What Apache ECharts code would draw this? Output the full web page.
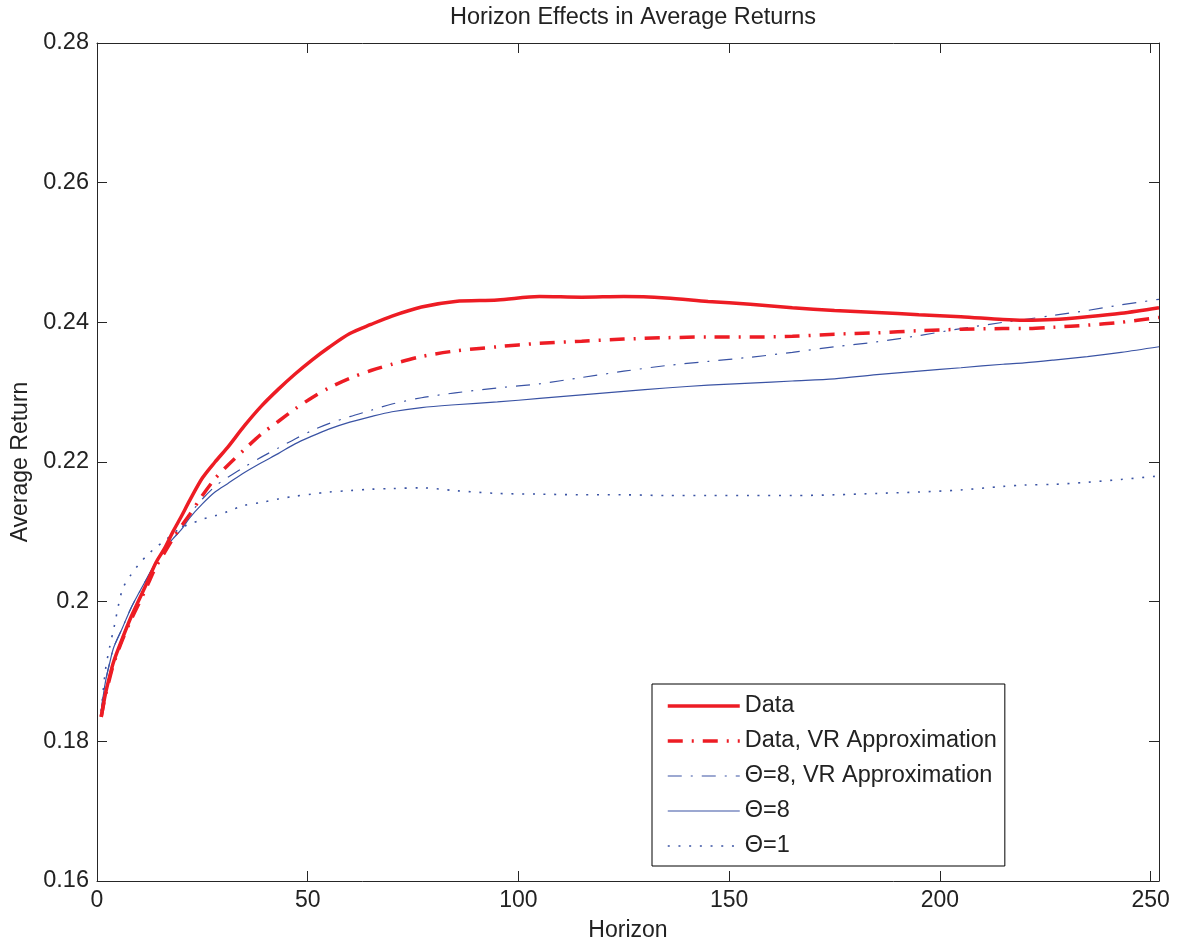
<!DOCTYPE html>
<html>
<head>
<meta charset="utf-8">
<script src="https://cdn.jsdelivr.net/npm/echarts@6/dist/echarts.min.js"></script>
<style>
html,body{margin:0;padding:0;background:#fff;}
#chart{width:1177px;height:947px;}
</style>
</head>
<body>
<div id="chart"></div>
<script>
var horizon = [1,2,3,4,6,8,10,12,14,16,18,20,22,25,28,31,35,39,43,47,51,55,60,65,70,77,85,95,105,115,125,135,145,155,165,175,185,195,205,215,220,227,235,243,252];

var dataActual = [0.1835,0.1868,0.1893,0.1915,0.1947,0.1977,0.2003,0.2029,0.2056,0.2076,0.2100,0.2122,0.2145,0.2177,0.2200,0.2221,0.2252,0.2280,0.2304,0.2326,0.2346,0.2364,0.2384,0.2397,0.2409,0.2422,0.2430,0.2432,0.2437,0.2436,0.2437,0.2435,0.2430,0.2426,0.2421,0.2417,0.2414,0.2411,0.2408,0.2404,0.2403,0.2404,0.2408,0.2413,0.2421];

var dataVR = [0.1835,0.1866,0.1890,0.1912,0.1945,0.1973,0.1998,0.2024,0.2050,0.2070,0.2090,0.2108,0.2125,0.2152,0.2176,0.2195,0.2218,0.2240,0.2258,0.2276,0.2292,0.2306,0.2320,0.2331,0.2340,0.2351,0.2359,0.2365,0.2370,0.2373,0.2376,0.2378,0.2379,0.2379,0.2380,0.2383,0.2385,0.2388,0.2390,0.2391,0.2391,0.2393,0.2396,0.2400,0.2407];

var theta8VR = [0.1844,0.1885,0.1912,0.1935,0.1962,0.1990,0.2013,0.2035,0.2057,0.2076,0.2090,0.2105,0.2125,0.2147,0.2165,0.2178,0.2193,0.2207,0.2220,0.2233,0.2245,0.2255,0.2265,0.2274,0.2283,0.2292,0.2299,0.2306,0.2312,0.2321,0.2330,0.2338,0.2344,0.2350,0.2357,0.2365,0.2372,0.2381,0.2391,0.2400,0.2404,0.2410,0.2417,0.2425,0.2433];

var theta8 = [0.1844,0.1885,0.1912,0.1935,0.1962,0.1990,0.2013,0.2035,0.2057,0.2076,0.2090,0.2103,0.2120,0.2140,0.2157,0.2169,0.2185,0.2199,0.2212,0.2226,0.2237,0.2247,0.2257,0.2265,0.2272,0.2278,0.2282,0.2286,0.2291,0.2296,0.2301,0.2306,0.2310,0.2313,0.2316,0.2319,0.2325,0.2330,0.2335,0.2340,0.2342,0.2346,0.2351,0.2357,0.2365];

var theta1 = [0.1843,0.1902,0.1935,0.1962,0.2017,0.2038,0.2054,0.2067,0.2078,0.2087,0.2097,0.2106,0.2111,0.2118,0.2123,0.2129,0.2138,0.2142,0.2147,0.2151,0.2154,0.2157,0.2159,0.2161,0.2162,0.2163,0.2159,0.2155,0.2154,0.2153,0.2153,0.2152,0.2152,0.2152,0.2152,0.2153,0.2155,0.2157,0.2160,0.2165,0.2167,0.2168,0.2171,0.2175,0.2180];

var seriesNames = ['Data', 'Data, VR Approximation', '\u0398=8, VR Approximation', '\u0398=8', '\u0398=1'];

function pairs(arr) {
  return horizon.map(function (h, i) { return [h, arr[i]]; });
}

var RED = '#ed1c24';
var BLUE = '#3a53a4';
var AXC = '#262626';
var FONT = "'Liberation Sans', Arial, Helvetica, sans-serif";

var styles = [
  {color: RED, width: 3.5, type: 'solid'},
  {color: RED, width: 3.5, type: [15, 9, 2, 9]},
  {color: BLUE, width: 1.2, type: [14, 9, 2, 9]},
  {color: BLUE, width: 1.2, type: 'solid'},
  {color: BLUE, width: 1.6, type: [2, 8.7]}
];

var chart = echarts.init(document.getElementById('chart'), null, {renderer: 'canvas'});

function axisCommon() {
  return {
    axisLine: {show: true, onZero: false, lineStyle: {color: AXC, width: 1}},
    axisTick: {show: true, inside: true, length: 10, lineStyle: {color: AXC, width: 1}},
    splitLine: {show: false}
  };
}

chart.setOption({
  animation: false,
  backgroundColor: '#fff',
  title: {
    text: 'Horizon Effects in Average Returns',
    left: 628, top: 1, textAlign: 'center',
    textStyle: {fontFamily: FONT, fontSize: 23.5, fontWeight: 'normal', color: '#222'}
  },
  grid: {left: 97, top: 43, right: 18, bottom: 66, containLabel: false},
  legend: {
    show: true,
    orient: 'vertical',
    left: 652, top: 684,
    padding: [10, 8, 8, 14],
    itemWidth: 72, itemHeight: 20, itemGap: 11,
    borderColor: '#000', borderWidth: 1, backgroundColor: '#fff',
    itemStyle: {opacity: 0},
    textStyle: {fontFamily: FONT, fontSize: 23.5, lineHeight: 23.5, color: '#222'},
    data: seriesNames.map(function (n, i) {
      return {name: n, lineStyle: {width: styles[i].width, type: styles[i].type, color: styles[i].color, cap: 'butt'}, itemStyle: {opacity: 0}};
    })
  },
  xAxis: [
    Object.assign({
      type: 'value', position: 'bottom', min: 0, max: 252, interval: 50,
      name: 'Horizon', nameLocation: 'middle', nameGap: 38,
      nameTextStyle: {fontFamily: FONT, fontSize: 23, color: '#222'},
      axisLabel: {
        fontFamily: FONT, fontSize: 23, color: '#222', margin: 8,
        formatter: function (v) { return v % 50 === 0 ? String(v) : ''; }
      }
    }, axisCommon()),
    Object.assign({
      type: 'value', position: 'top', min: 0, max: 252, interval: 50,
      axisLabel: {show: false}
    }, axisCommon())
  ],
  yAxis: [
    Object.assign({
      type: 'value', position: 'left', min: 0.16, max: 0.28, interval: 0.02,
      name: 'Average Return', nameLocation: 'middle', nameGap: 63,
      nameTextStyle: {fontFamily: FONT, fontSize: 23, color: '#222'},
      axisLabel: {fontFamily: FONT, fontSize: 23.5, color: '#222', margin: 8}
    }, axisCommon()),
    Object.assign({
      type: 'value', position: 'right', min: 0.16, max: 0.28, interval: 0.02,
      axisLabel: {show: false}
    }, axisCommon())
  ],
  series: [
    {name: seriesNames[0], data: pairs(dataActual), z: 5},
    {name: seriesNames[1], data: pairs(dataVR), z: 4},
    {name: seriesNames[2], data: pairs(theta8VR), z: 3},
    {name: seriesNames[3], data: pairs(theta8), z: 3},
    {name: seriesNames[4], data: pairs(theta1), z: 3}
  ].map(function (s, i) {
    s.type = 'line';
    s.showSymbol = false;
    s.symbol = 'none';
    s.smooth = 0.3;
    s.lineStyle = {color: styles[i].color, width: styles[i].width, type: styles[i].type, cap: 'butt'};
    s.itemStyle = {color: styles[i].color};
    return s;
  })
});
</script>
</body>
</html>
